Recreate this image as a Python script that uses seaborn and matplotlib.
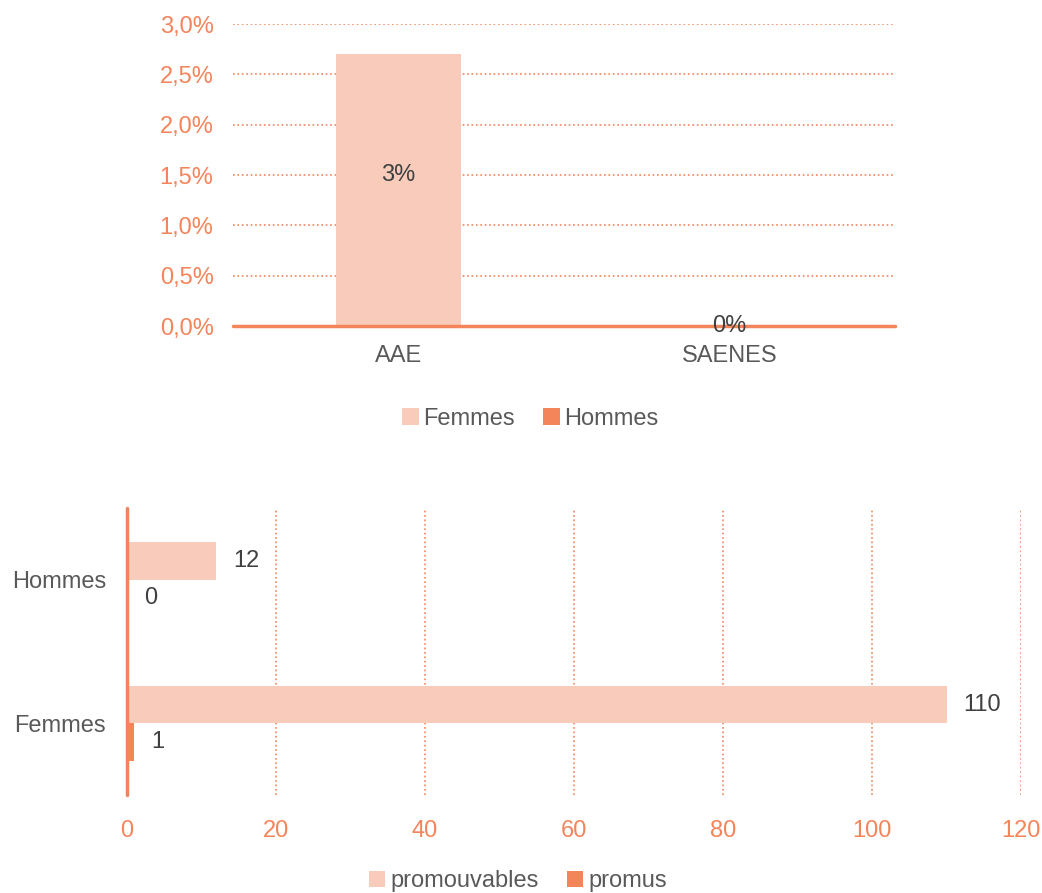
import pandas as pd
import matplotlib
matplotlib.use("Agg")
import matplotlib.pyplot as plt
from matplotlib.ticker import FuncFormatter
import seaborn as sns

# data
grades = ["AAE", "SAENES"]
taux_femmes = [0.027, 0.0]
taux_hommes = [0.0, 0.0]

sexes = ["Hommes", "Femmes"]
promouvables = [12, 110]
promus = [0, 1]

light = "#F9CBBA"
orange = "#F4845A"
gray = "#595959"

sns.set_style("white")
plt.rcParams["font.family"] = ["Liberation Sans", "DejaVu Sans"]
plt.rcParams["font.size"] = 17

fig = plt.figure(figsize=(10.42, 8.93), dpi=100)

# CHART 1: taux de promotion par grade
df1 = pd.DataFrame({
    "grade": grades * 2,
    "taux": taux_femmes + taux_hommes,
    "sexe": ["Femmes"] * len(grades) + ["Hommes"] * len(grades),
})
ax1 = fig.add_axes([0.2236, 0.6349, 0.6353, 0.3382])
sns.barplot(data=df1, x="grade", y="taux", hue="sexe", hue_order=["Femmes", "Hommes"],
            palette=[light, orange], saturation=1, dodge=False, width=0.38,
            linewidth=0, ax=ax1)
ax1.set_ylim(0, 0.03)
ax1.set_xlim(-0.5, 1.5)
ax1.set_yticks([i * 0.005 for i in range(7)])
ax1.yaxis.set_major_formatter(FuncFormatter(lambda v, p: f"{v*100:.1f}%".replace(".", ",")))
ax1.yaxis.grid(True, linestyle=":", color=orange, linewidth=1.2)
ax1.set_axisbelow(True)
ax1.axhline(0, color=orange, linewidth=2.5, zorder=5, clip_on=False)
for s in ax1.spines.values():
    s.set_visible(False)
ax1.tick_params(axis="y", colors=orange, length=0, pad=14)
ax1.tick_params(axis="x", colors=gray, length=0, pad=14)
ax1.set_xlabel("")
ax1.set_ylabel("")
lbls = ax1.bar_label(ax1.containers[0], labels=[f"{v*100:.0f}%" for v in taux_femmes],
                     label_type="center", color="#404040", zorder=6)
lbls[0].xyann = (0, 11)
h1, l1 = ax1.get_legend_handles_labels()
ax1.get_legend().remove()
fig.legend(h1, l1, loc="center", bbox_to_anchor=(0.509, 0.531), ncol=2, frameon=False,
           handlelength=0.7, handleheight=0.7, handletextpad=0.2, columnspacing=1.2,
           labelcolor=gray)

# CHART 2: promouvables / promus
df2 = pd.DataFrame({
    "sexe": sexes * 2,
    "nombre": promouvables + promus,
    "statut": ["promouvables"] * len(sexes) + ["promus"] * len(sexes),
})
ax2 = fig.add_axes([0.1219, 0.1097, 0.858, 0.3214])
sns.barplot(data=df2, x="nombre", y="sexe", hue="statut", order=sexes,
            hue_order=["promouvables", "promus"], palette=[light, orange], saturation=1,
            orient="h", width=0.52, linewidth=0, ax=ax2)
ax2.set_xlim(0, 120)
ax2.set_xticks(range(0, 121, 20))
ax2.xaxis.grid(True, linestyle=":", color=orange, linewidth=1.2)
ax2.set_axisbelow(True)
for s in ax2.spines.values():
    s.set_visible(False)
ax2.axvline(0, color=orange, linewidth=2.5, zorder=5, clip_on=False)
ax2.tick_params(axis="x", colors=orange, length=0, pad=18)
ax2.tick_params(axis="y", colors=gray, length=0, pad=15)
ax2.set_xlabel("")
ax2.set_ylabel("")
for c in ax2.containers:
    ax2.bar_label(c, padding=12, color="#404040")
h2, l2 = ax2.get_legend_handles_labels()
ax2.get_legend().remove()
fig.legend(h2, l2, loc="center", bbox_to_anchor=(0.497, 0.013), ncol=2, frameon=False,
           handlelength=0.7, handleheight=0.7, handletextpad=0.2, columnspacing=1.2,
           labelcolor=gray)

fig.savefig("out.png", dpi=100)
